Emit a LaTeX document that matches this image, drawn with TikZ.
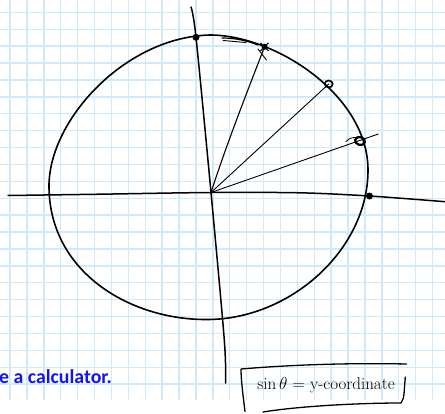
\documentclass[tikz,border=0pt]{standalone}
\usepackage{fontspec}
\usetikzlibrary{shapes.geometric}
\newfontfamily\calib{Carlito}
\definecolor{gridblue}{RGB}{207,234,251}
\definecolor{txtblue}{RGB}{20,20,235}
\begin{document}
\begin{tikzpicture}[x=1pt,y=-1pt,
  pen/.style={line width=1.6pt, line cap=round, line join=round},
  axispen/.style={line width=1.5pt, line cap=round, line join=round},
  thinpen/.style={line width=0.9pt, line cap=round},
  dotmark/.style={circle, fill=black, inner sep=0pt, minimum size=7pt},
  ringmark/.style={ellipse, draw=black, line width=1.6pt, inner sep=0pt, minimum width=8pt, minimum height=7pt},
  gridline/.style={gridblue, line width=1.4pt}
]
\useasboundingbox (0,0) rectangle (445,413);
\fill[white] (0,0) rectangle (445,413);
% grid paper
\foreach \k in {0,...,25} \draw[gridline] ({10+16.9*\k},0) -- ({10+16.9*\k},400);
\foreach \k in {0,...,22} \draw[gridline] (0,{12.3+16.9*\k}) -- (445,{12.3+16.9*\k});

% key points
\coordinate (O) at (211,192.5);
\coordinate (P1) at (196,37.3);
\coordinate (P2) at (264.5,46.8);
\coordinate (P3) at (328.7,84);
\coordinate (P4) at (360,141);
\coordinate (P4e) at (378.3,134);
\coordinate (P5) at (369.5,196);

% circle
\draw[pen] (210,35) .. controls (275,35) and (368,95) .. (368,170)
  .. controls (368,250) and (290,319.5) .. (207,319.5)
  .. controls (130,320) and (49,272) .. (49,186)
  .. controls (49,120) and (125,37) .. cycle;

% axes
\draw[axispen] plot[smooth, tension=0.5] coordinates {(8,195.5) (100,194.2) (O) (300,192.8) (P5) (445,201.7)};
\draw[axispen] plot[smooth, tension=0.5] coordinates {(191,7) (P1) (O) (224.3,340) (225.5,383)};

% radial lines
\draw[line width=1.1pt, line cap=round] (O) .. controls (228,140) and (248,90) .. (P2);
\draw[thinpen] (O) -- (P3);
\draw[thinpen] (O) -- (P4e);

% extra strokes near top
\draw[line width=1.2pt, line cap=round] (222,38) .. controls (236,38) and (248,41) .. (258,45);
\draw[line width=0.9pt, line cap=round] (223,40.5) -- (246,42.5);
\draw[line width=0.9pt, line cap=round] (258,49) -- (266.5,60);
\draw[line width=0.8pt, line cap=round] (346,141.5) .. controls (350,137) and (355,137) .. (358,138);

% marks
\node[dotmark] (d1) at (P1) {};
\node[dotmark, minimum size=6pt] (d2) at (P2) {};
\draw[line width=1pt] ([shift={(-4,-4)}]P2) -- ([shift={(4,4)}]P2);
\draw[line width=1pt] ([shift={(-4,4)}]P2) -- ([shift={(4,-4)}]P2);
\node[ringmark] (d3) at (P3) {};
\node[ringmark, minimum width=10pt, minimum height=8pt, line width=2.2pt, rotate=-15] (d4) at (P4) {};
\node[dotmark] (d5) at (P5) {};

% blue text
\node[anchor=base west, inner sep=0pt, text=txtblue, font=\calib\bfseries\fontsize{19.8}{22}\selectfont] (calc) at (-1,383.5) {e a calculator.};

% boxed handwritten formula
\node[inner sep=0pt, font=\fontsize{17}{20}\selectfont] (eq) at (326,385) {sin\,$\theta$ = y-coordinate};
\draw[line width=1.3pt, line cap=round, line join=round]
  (245,411.5) .. controls (243,395) and (241,380) .. (241,369)
  .. controls (300,364) and (360,363) .. (406.5,364);
\draw[line width=1.3pt, line cap=round, line join=round]
  (263,412) .. controls (300,406) and (360,403) .. (401,403)
  .. controls (403,400) and (404,397) .. (404,394) -- (405.3,377);
\end{tikzpicture}
\end{document}
